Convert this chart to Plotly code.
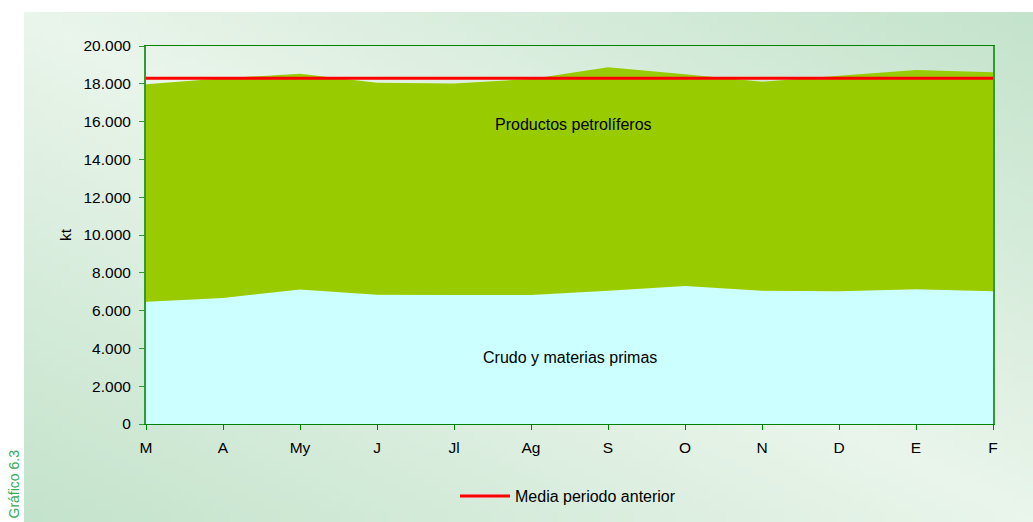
import base64
import struct
import zlib

import plotly.graph_objects as go

# Months (March to February) and monthly stocks, kt
meses = ["M", "A", "My", "J", "Jl", "Ag", "S", "O", "N", "D", "E", "F"]
crudo = [6470, 6670, 7110, 6840, 6830, 6830, 7050, 7300, 7050, 7020, 7130, 7020]
productos = [11510, 11630, 11420, 11220, 11190, 11420, 11820, 11200, 11060, 11400, 11600, 11590]
media_anterior = 18290

y_ticks = list(range(0, 20001, 2000))


def gradient_png(w, h, light, dark):
    """Diagonal two-tone gradient as a PNG data URI."""
    raw = bytearray()
    for j in range(h):
        raw.append(0)
        yn = j / (h - 1)
        for i in range(w):
            xn = i / (w - 1)
            t = min(1.0, abs(xn - yn))
            for c in range(3):
                raw.append(int(round(light[c] + (dark[c] - light[c]) * t)))

    def chunk(tag, data):
        body = tag + data
        return struct.pack(">I", len(data)) + body + struct.pack(">I", zlib.crc32(body) & 0xFFFFFFFF)

    png = b"\x89PNG\r\n\x1a\n"
    png += chunk(b"IHDR", struct.pack(">IIBBBBB", w, h, 8, 2, 0, 0, 0))
    png += chunk(b"IDAT", zlib.compress(bytes(raw), 9))
    png += chunk(b"IEND", b"")
    return "data:image/png;base64," + base64.b64encode(png).decode()


W, H = 1033, 522
L, R, T, B = 146, 40, 46, 98
pw, ph = W - L - R, H - T - B


def px(xp):
    return (xp - L) / pw


def py(yp):
    return (H - B - yp) / ph


fig = go.Figure()

fig.add_trace(go.Scatter(
    x=meses, y=crudo, stackgroup="stock", mode="none",
    fillcolor="#CCFFFF", name="Crudo y materias primas", showlegend=False,
))
fig.add_trace(go.Scatter(
    x=meses, y=productos, stackgroup="stock", mode="none",
    fillcolor="#99CC00", name="Productos petrolíferos", showlegend=False,
))
fig.add_trace(go.Scatter(
    x=meses, y=[media_anterior] * len(meses), mode="lines",
    line=dict(color="#FF0000", width=3), name="Media periodo anterior",
))

fig.add_annotation(x=5.55, y=15870, text="Productos petrolíferos", showarrow=False,
                   font=dict(size=16, color="#000000"))
fig.add_annotation(x=5.5, y=3545, text="Crudo y materias primas", showarrow=False,
                   font=dict(size=16, color="#000000"))

fig.add_annotation(xref="paper", yref="paper", x=px(13), y=py(448), text="Gráfico 6.3",
                   textangle=-90, showarrow=False, xanchor="center", yanchor="top",
                   font=dict(size=14, color="#33AA55"))

fig.add_layout_image(dict(
    source=gradient_png(120, 60, (234, 245, 235), (196, 227, 204)),
    xref="paper", yref="paper", x=px(24), y=py(12),
    sizex=px(W) - px(24), sizey=py(12) - py(H),
    sizing="stretch", layer="below", xanchor="left", yanchor="top",
))

fig.update_layout(
    width=W, height=H,
    margin=dict(l=L, r=R, t=T, b=B, autoexpand=False),
    paper_bgcolor="#FFFFFF",
    plot_bgcolor="#FFFFFF",
    font=dict(family="Liberation Sans, Arial, sans-serif", size=16, color="#000000"),
    separators=",.",
    showlegend=True,
    legend=dict(orientation="h", x=px(455), y=py(496), xanchor="left", yanchor="middle",
                bgcolor="rgba(0,0,0,0)", font=dict(size=16), itemwidth=50),
    xaxis=dict(
        type="category", range=[0, len(meses) - 1], showgrid=False,
        showline=True, linecolor="#008000", linewidth=1, mirror=True,
        ticks="outside", ticklen=5, tickcolor="#008000",
        tickfont=dict(size=15.5), ticklabelstandoff=4, zeroline=False,
    ),
    yaxis=dict(
        range=[0, 20000], tickvals=y_ticks, tickformat=",.0f", showgrid=False,
        showline=True, linecolor="#339933", linewidth=2, mirror=True,
        ticks="outside", ticklen=5, tickcolor="#339933",
        tickfont=dict(size=15.5), ticklabelstandoff=5, zeroline=False,
        title=dict(text="kt", font=dict(size=15.5), standoff=8),
    ),
)

fig.write_html("out.html")
